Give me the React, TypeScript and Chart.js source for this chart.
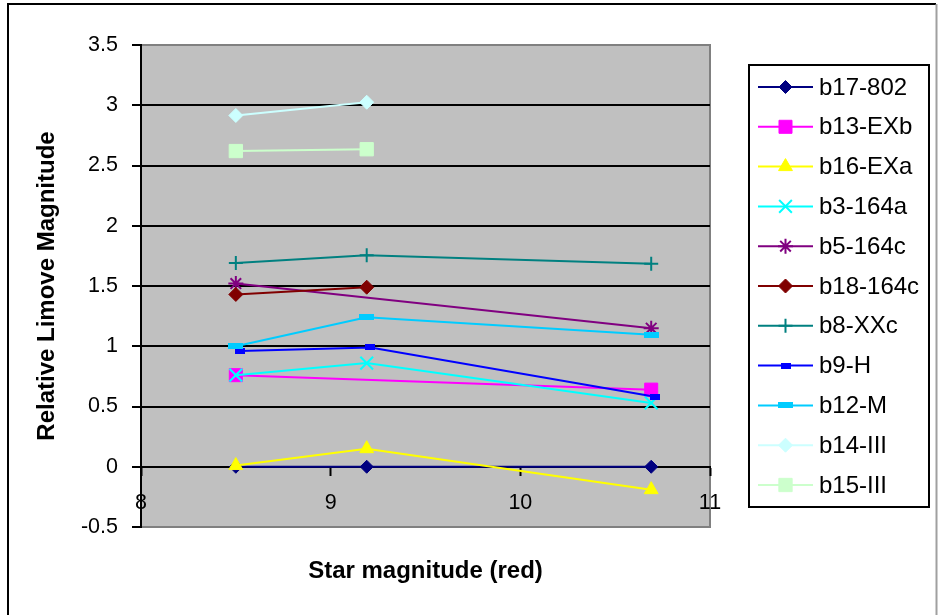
import React, { useEffect, useRef } from 'react';
import { Chart, registerables } from 'chart.js';
import { drawPoint } from 'chart.js/helpers';

Chart.register(...registerables);

// ---------- data ----------
const seriesNames = ['b17-802', 'b13-EXb', 'b16-EXa', 'b3-164a', 'b5-164c', 'b18-164c', 'b8-XXc', 'b9-H', 'b12-M', 'b14-III', 'b15-III'];

const xThree = [8.5, 9.19, 10.69];
const xFirstTwo = [8.5, 9.19];
const xEnds = [8.5, 10.69];
const xB9 = [8.52, 9.21, 10.71];

const yB17 = [0, 0, 0];
const yB13 = [0.76, 0.64];
const yB16 = [0.01, 0.15, -0.19];
const yB3 = [0.76, 0.86, 0.53];
const yB5 = [1.52, 1.15];
const yB18 = [1.43, 1.49];
const yB8 = [1.69, 1.755, 1.685];
const yB9 = [0.96, 0.99, 0.58];
const yB12 = [1.0, 1.24, 1.095];
const yB14 = [2.915, 3.025];
const yB15 = [2.62, 2.635];

const seriesX = [xThree, xEnds, xThree, xThree, xEnds, xFirstTwo, xThree, xB9, xThree, xFirstTwo, xFirstTwo];
const seriesY = [yB17, yB13, yB16, yB3, yB5, yB18, yB8, yB9, yB12, yB14, yB15];

const xMin = 8, xMax = 11, xStep = 1;
const yMin = -0.5, yMax = 3.5, yStep = 0.5;

const xTitle = 'Star magnitude (red)';
const yTitle = 'Relative Limove Magnitude';

// ---------- styles ----------
function rectMarker(w: number, h: number, color: string): HTMLCanvasElement {
  const c = document.createElement('canvas');
  c.width = w; c.height = h;
  const g = c.getContext('2d')!;
  g.fillStyle = color; g.fillRect(0, 0, w, h);
  return c;
}

const seriesStyles: any[] = [
  { color: '#000080', style: 'rectRot', radius: 6.5, bw: 1 },
  { color: '#FF00FF', style: 'rect', radius: 9.2, bw: 1 },
  { color: '#FFFF00', style: 'triangle', radius: 8, bw: 1 },
  { color: '#00FFFF', style: 'crossRot', radius: 9, bw: 2 },
  { color: '#800080', style: 'star', radius: 7.5, bw: 2 },
  { color: '#800000', style: 'rectRot', radius: 7, bw: 1 },
  { color: '#008080', style: 'cross', radius: 7, bw: 2 },
  { color: '#0000FF', style: 'img', w: 10, h: 6, radius: 6, bw: 0 },
  { color: '#00CCFF', style: 'img', w: 15, h: 6, radius: 8, bw: 0 },
  { color: '#CCFFFF', style: 'rectRot', radius: 7, bw: 1 },
  { color: '#CCFFCC', style: 'rect', radius: 9.4, bw: 1 },
];

const FONT = "'Liberation Sans', Arial, Helvetica, sans-serif";

const decorPlugin = {
  id: 'decor',
  beforeDraw(chart: any) {
    const { ctx, chartArea: a } = chart;
    ctx.save();
    ctx.fillStyle = '#ffffff';
    ctx.fillRect(0, 0, chart.width, chart.height);
    // outer chart border
    ctx.strokeStyle = '#000000';
    ctx.lineWidth = 2;
    ctx.beginPath();
    ctx.moveTo(8, 640); ctx.lineTo(8, 4); ctx.lineTo(936, 4);
    ctx.stroke();
    ctx.strokeStyle = '#a0a0a0';
    ctx.beginPath();
    ctx.moveTo(936.5, 4); ctx.lineTo(936.5, 640);
    ctx.stroke();
    // plot area
    ctx.fillStyle = '#C0C0C0';
    ctx.fillRect(a.left, a.top, a.right - a.left, a.bottom - a.top);
    ctx.strokeStyle = '#808080';
    ctx.lineWidth = 2;
    ctx.strokeRect(a.left, a.top, a.right - a.left, a.bottom - a.top);
    ctx.restore();
  },
  afterDraw(chart: any) {
    const { ctx, chartArea: a } = chart;
    ctx.save();
    // x title
    ctx.fillStyle = '#000';
    ctx.font = `bold 24px ${FONT}`;
    ctx.textAlign = 'center';
    ctx.textBaseline = 'middle';
    ctx.fillText(xTitle, (a.left + a.right) / 2, 571);
    // legend
    const lx = 749, ly = 65, lw = 180, lh = 442;
    ctx.fillStyle = '#ffffff';
    ctx.fillRect(lx, ly, lw, lh);
    ctx.strokeStyle = '#000';
    ctx.lineWidth = 2;
    ctx.strokeRect(lx, ly, lw, lh);
    chart.data.datasets.forEach((ds: any, i: number) => {
      const y = 87 + i * 39.8;
      ctx.strokeStyle = ds.borderColor;
      ctx.lineWidth = 2;
      ctx.beginPath();
      ctx.moveTo(758, y); ctx.lineTo(813, y);
      ctx.stroke();
      ctx.fillStyle = ds.pointBackgroundColor;
      ctx.strokeStyle = ds.pointBorderColor;
      ctx.lineWidth = ds.pointBorderWidth;
      drawPoint(ctx, { pointStyle: ds.pointStyle, radius: ds.pointRadius, rotation: 0, borderWidth: ds.pointBorderWidth }, 785.5, y);
      ctx.fillStyle = '#000';
      ctx.font = `24px ${FONT}`;
      ctx.textAlign = 'left';
      ctx.textBaseline = 'middle';
      ctx.fillText(ds.label, 819, y + 1);
    });
    ctx.restore();
  },
};

const plainNumber = (v: any) => String(Number(v));

export default function App() {
  const ref = useRef<HTMLCanvasElement>(null);
  useEffect(() => {
    const canvas = ref.current!;
    const datasets = seriesNames.map((name, i) => {
      const s = seriesStyles[i];
      const ps = s.style === 'img' ? rectMarker(s.w, s.h, s.color) : s.style;
      return {
        label: name,
        data: seriesX[i].map((x, j) => ({ x, y: seriesY[i][j] })),
        showLine: true,
        borderColor: s.color,
        backgroundColor: s.color,
        borderWidth: 2,
        pointStyle: ps,
        pointRadius: s.radius,
        pointHoverRadius: s.radius,
        pointBackgroundColor: s.color,
        pointBorderColor: s.color,
        pointBorderWidth: s.bw,
        order: seriesNames.length - i,
      };
    });
    const chart = new Chart(canvas, {
      type: 'scatter',
      data: { datasets },
      plugins: [decorPlugin],
      options: {
        responsive: false,
        devicePixelRatio: 1,
        animation: false,
        events: [],
        layout: { padding: { top: 45, right: 228, bottom: 88, left: 0 } },
        plugins: { legend: { display: false }, tooltip: { enabled: false } },
        scales: {
          x: {
            type: 'linear',
            position: { y: 0 } as any,
            min: xMin,
            max: xMax,
            ticks: { stepSize: xStep, color: '#000', font: { family: FONT, size: 21.5 }, padding: 15, callback: plainNumber },
            grid: { drawOnChartArea: false, drawTicks: true, tickLength: 8, tickColor: '#000', tickWidth: 2 },
            border: { display: true, color: '#000', width: 2 },
          },
          y: {
            type: 'linear',
            position: 'left',
            min: yMin,
            max: yMax,
            ticks: { stepSize: yStep, color: '#000', font: { family: FONT, size: 21.5 }, padding: 14, callback: plainNumber },
            grid: {
              color: (c: any) => (c.tick && (c.tick.value === yMax || c.tick.value === yMin) ? 'rgba(0,0,0,0)' : '#000'),
              lineWidth: 2,
              tickLength: 9,
              tickColor: '#000',
              tickWidth: 2,
            },
            border: { display: true, color: '#000', width: 2 },
            title: { display: true, text: yTitle, color: '#000', font: { family: FONT, size: 24, weight: 'bold' }, padding: { top: 33, bottom: 0 } },
            afterFit: (s: any) => { s.width = 141; },
          },
        },
      } as any,
    });
    return () => chart.destroy();
  }, []);
  return (
    <div style={{ position: 'fixed', left: 0, top: 0, width: 938, height: 615, background: '#fff' }}>
      <canvas ref={ref} width={938} height={615} style={{ display: 'block', width: 938, height: 615 }} />
    </div>
  );
}
